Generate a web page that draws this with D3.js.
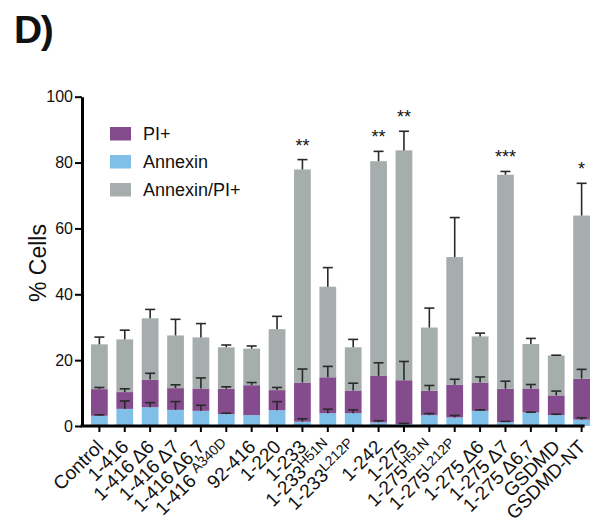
<!DOCTYPE html>
<html>
<head>
<meta charset="utf-8">
<script src="https://cdn.jsdelivr.net/npm/d3@7"></script>
<style>
body { margin: 0; background: #fff; }
text { font-family: 'Liberation Sans', Arial, Helvetica, sans-serif; fill: #111; }
</style>
</head>
<body>
<script>
// categories, '^' marks the part drawn as superscript
var categories = ['Control', '1-416', '1-416 Δ6', '1-416 Δ7', '1-416 Δ6,7', '1-416 ^A340D', '92-416', '1-220',
  '1-233', '1-233^H51N', '1-233^L212P', '1-242', '1-275', '1-275^H51N', '1-275^L212P',
  '1-275 Δ6', '1-275 Δ7', '1-275 Δ6,7', 'GSDMD', 'GSDMD-NT']

// segment values (stacked: Annexin at bottom, then PI+, then Annexin/PI+)
var annexin = [3.1, 5.2, 5.7, 4.9, 4.6, 3.6, 3.3, 4.8, 1.3, 3.9, 3.9, 1.1, 0.6, 3.3, 2.6, 4.6, 1.2, 4.1, 3.3, 1.9]
var annexinErr = [0.3, 2.4, 1.4, 2.5, 1.7, 0.3, 0, 2.6, 0.9, 1.2, 1.0, 0.5, 0.2, 0.5, 0.6, 0.3, 0.2, 0.1, 0.3, 0.6]
var pi = [8.1, 5.1, 8.4, 6.6, 6.8, 7.7, 9.1, 6.1, 11.9, 10.9, 6.9, 14.1, 13.3, 7.4, 9.9, 8.6, 10.1, 7.3, 6.0, 12.5]
var piErr = [0.5, 1.0, 1.9, 1.0, 3.2, 0.6, 0.8, 0.8, 4.1, 3.3, 2.2, 4.0, 5.7, 1.6, 1.7, 1.7, 2.3, 1.2, 1.3, 2.8]
var annexinPi = [13.6, 16.0, 18.6, 16.0, 15.5, 12.6, 11.1, 18.5, 64.7, 27.5, 13.1, 65.2, 69.8, 19.2, 38.8, 14.0, 65.0, 13.5, 12.1, 49.5]
var annexinPiErr = [2.2, 2.8, 2.7, 4.9, 4.2, 0.7, 0.8, 3.9, 3.0, 5.8, 2.4, 3.0, 5.8, 5.9, 12.0, 1.0, 1.0, 1.7, 0.1, 9.8]
var stars = ['', '', '', '', '', '', '', '', '**', '', '', '**', '**', '', '', '', '***', '', '', '*']

var seriesNames = ['Annexin', 'PI+', 'Annexin/PI+']
var legendNames = ['PI+', 'Annexin', 'Annexin/PI+']
var yTicks = [0, 20, 40, 60, 80, 100]

var width = 596
var height = 522
var colors = { 'Annexin': '#80bfe8', 'PI+': '#854c8d', 'Annexin/PI+': '#a6adad' }

window.onload = main

function main() {
  var svg = d3.select('body').append('svg')
    .attr('width', width)
    .attr('height', height)

  var x = d3.scaleBand()
    .domain(categories)
    .range([82, 599])
    .paddingInner(0.34)
    .paddingOuter(0.355)

  var y = d3.scaleLinear()
    .domain([0, 100])
    .range([426, 96.7])

  var errs = { 'Annexin': annexinErr, 'PI+': piErr, 'Annexin/PI+': annexinPiErr }
  var table = categories.map((c, i) => {
    return { cat: c, 'Annexin': annexin[i], 'PI+': pi[i], 'Annexin/PI+': annexinPi[i] }
  })
  var layers = d3.stack().keys(seriesNames)(table)

  // bars
  svg.selectAll('g.layer')
    .data(layers)
    .enter()
    .append('g')
    .attr('class', 'layer')
    .style('fill', (d) => { return colors[d.key] })
    .selectAll('rect')
    .data((d) => { return d })
    .enter()
    .append('rect')
    .attr('x', (d) => { return x(d.data.cat) })
    .attr('width', x.bandwidth())
    .attr('y', (d) => { return y(d[1]) })
    .attr('height', (d) => { return y(d[0]) - y(d[1]) })

  // error bars (upward only)
  var bw = x.bandwidth()
  layers.forEach((layer) => {
    var e = errs[layer.key]
    var g = svg.append('g')
      .style('stroke', '#2a2a2a')
      .style('stroke-width', 1.6)
    layer.forEach((d, i) => {
      if(e[i] <= 0) return
      var cx = x(d.data.cat) + bw / 2
      g.append('line')
        .attr('x1', cx).attr('x2', cx)
        .attr('y1', y(d[1])).attr('y2', y(d[1] + e[i]))
      g.append('line')
        .attr('x1', cx - 5).attr('x2', cx + 5)
        .attr('y1', y(d[1] + e[i])).attr('y2', y(d[1] + e[i]))
    })
  })

  // significance stars
  var top = layers[layers.length - 1]
  svg.selectAll('text.star')
    .data(stars)
    .enter()
    .append('text')
    .attr('class', 'star')
    .attr('x', (d, i) => { return x(categories[i]) + bw / 2 })
    .attr('y', (d, i) => { return y(top[i][1] + annexinPiErr[i]) - 8 })
    .attr('text-anchor', 'middle')
    .style('font-size', '18px')
    .text((d) => { return d })

  // y axis
  var yAxis = svg.append('g')
    .attr('transform', 'translate(82,0)')
    .call(d3.axisLeft(y).tickValues(yTicks).tickSize(7).tickSizeOuter(0).tickPadding(2))
  yAxis.select('.domain').style('stroke', '#000').style('stroke-width', 3)
  yAxis.selectAll('.tick line').style('stroke', '#000').style('stroke-width', 2)
  yAxis.selectAll('.tick text').style('font-size', '16px').style('fill', '#111')

  // x axis
  var xAxis = svg.append('g')
    .attr('transform', 'translate(0,426)')
    .call(d3.axisBottom(x).tickSize(6).tickSizeOuter(0).tickFormat(''))
  xAxis.select('.domain').remove()
  xAxis.append('line')
    .attr('x1', 80.5).attr('x2', x(categories[categories.length - 1]) + bw / 2 + 3)
    .style('stroke', '#000')
    .style('stroke-width', 3)
  xAxis.selectAll('.tick line').style('stroke', '#000').style('stroke-width', 2)

  var labels = svg.selectAll('text.xlab')
    .data(categories)
    .enter()
    .append('text')
    .attr('class', 'xlab')
    .attr('text-anchor', 'end')
    .attr('transform', (d) => { return 'translate(' + (x(d) + bw / 2 + 5) + ',448) rotate(-45)' })
    .style('font-size', '19px')
  labels.each(function(d) {
    var parts = d.split('^')
    var t = d3.select(this)
    t.append('tspan').text(parts[0])
    if(parts.length > 1) {
      t.append('tspan')
        .attr('dy', '-0.45em')
        .style('font-size', '14px')
        .text(parts[1])
    }
  })

  // y label
  svg.append('text')
    .attr('transform', 'translate(46,263) rotate(-90)')
    .attr('text-anchor', 'middle')
    .style('font-size', '23px')
    .text('% Cells')

  // legend
  var legend = svg.selectAll('g.legend')
    .data(legendNames)
    .enter()
    .append('g')
    .attr('class', 'legend')
    .attr('transform', (d, i) => { return 'translate(110,' + (127 + i * 28) + ')' })
  legend.append('rect')
    .attr('width', 21)
    .attr('height', 13.5)
    .style('fill', (d) => { return colors[d] })
  legend.append('text')
    .attr('x', 33)
    .attr('y', 13)
    .style('font-size', '18px')
    .text((d) => { return d })

  // panel letter
  svg.append('text')
    .attr('x', 14)
    .attr('y', 43)
    .style('font-size', '39px')
    .style('font-weight', 'bold')
    .style('letter-spacing', '-1.5px')
    .text('D)')
}
</script>
</body>
</html>
